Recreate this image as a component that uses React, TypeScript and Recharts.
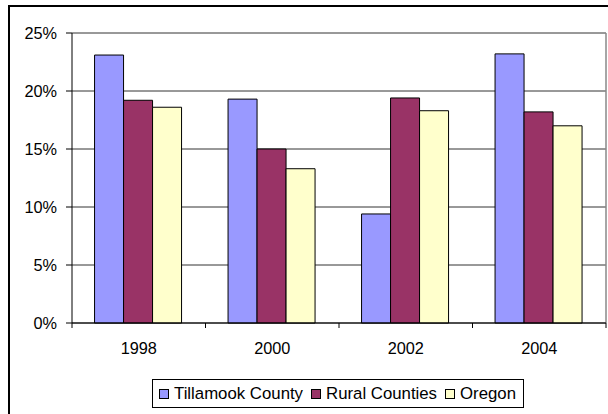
import { BarChart, Bar, XAxis, YAxis, CartesianGrid } from 'recharts';

const years = ['1998', '2000', '2002', '2004'];
const tillamook = [23.1, 19.3, 9.4, 23.2];
const rural = [19.2, 15.0, 19.4, 18.2];
const oregon = [18.6, 13.3, 18.3, 17.0];
const yTicks = [0, 5, 10, 15, 20, 25];

const series = [
  { key: 'tillamook', name: 'Tillamook County', color: '#9999FF' },
  { key: 'rural', name: 'Rural Counties', color: '#993366' },
  { key: 'oregon', name: 'Oregon', color: '#FFFFCC' },
];

const data = years.map((year, i) => ({
  year,
  tillamook: tillamook[i],
  rural: rural[i],
  oregon: oregon[i],
}));

const FONT = '"Liberation Sans", Arial, sans-serif';
const CHART_W = 600;
const CHART_H = 400;
const MARGIN = { top: 26, right: 4, left: 0, bottom: 44 };
const Y_WIDTH = 62;
const band = (CHART_W - MARGIN.left - MARGIN.right - Y_WIDTH) / years.length;

// category labels plus Excel-style tick marks on the category boundaries
const YearTick = (props: any) => {
  const { x, y, payload, index } = props;
  const axisY = y - 19;
  return (
    <g>
      <line x1={x - band / 2} x2={x - band / 2} y1={axisY} y2={axisY + 5} stroke="#000" />
      {index === years.length - 1 && (
        <line x1={x + band / 2} x2={x + band / 2} y1={axisY} y2={axisY + 5} stroke="#000" />
      )}
      <text x={x} y={y} dy="0.71em" textAnchor="middle" fontSize={16.3} fontFamily={FONT} fill="#000">
        {payload.value}
      </text>
    </g>
  );
};

export default function App() {
  return (
    <div
      style={{
        position: 'absolute',
        left: 8,
        top: 5,
        width: CHART_W,
        height: 410,
        border: '2px solid #000',
        background: '#fff',
      }}
    >
      <BarChart
        width={CHART_W}
        height={CHART_H}
        data={data}
        margin={MARGIN}
        barCategoryGap="16.9%"
        barGap={0}
      >
        <CartesianGrid vertical={false} stroke="#333" strokeWidth={1} />
        <CartesianGrid
          horizontal={false}
          stroke="#888"
          strokeWidth={1.5}
          verticalCoordinatesGenerator={({ offset }: any) => [offset.left + offset.width]}
        />
        <XAxis
          dataKey="year"
          height={40}
          axisLine={{ stroke: '#000' }}
          tickLine={false}
          tickMargin={14}
          tickSize={5}
          tick={<YearTick />}
        />
        <YAxis
          width={Y_WIDTH}
          domain={[0, 25]}
          ticks={yTicks}
          tickFormatter={(v) => `${v}%`}
          axisLine={{ stroke: '#000' }}
          tickLine={{ stroke: '#000' }}
          tickSize={6}
          tickMargin={9}
          tick={{ fontSize: 16.3, fontFamily: FONT, fill: '#000' }}
          interval={0}
        />
        {series.map((s) => (
          <Bar
            key={s.key}
            dataKey={s.key}
            name={s.name}
            fill={s.color}
            stroke="#000"
            strokeWidth={1}
            isAnimationActive={false}
          />
        ))}
      </BarChart>
      <div
        style={{
          position: 'absolute',
          left: 142,
          top: 372,
          height: 27,
          border: '1px solid #000',
          display: 'flex',
          alignItems: 'center',
          paddingLeft: 6,
          paddingRight: 7,
          fontFamily: FONT,
          fontSize: 16.8,
          color: '#000',
          whiteSpace: 'nowrap',
        }}
      >
        {series.map((s, i) => (
          <div key={s.key} style={{ display: 'flex', alignItems: 'center', marginLeft: i === 0 ? 0 : 8 }}>
            <span
              style={{
                display: 'inline-block',
                width: 8,
                height: 8,
                background: s.color,
                border: '1px solid #000',
                marginRight: 5,
              }}
            />
            <span>{s.name}</span>
          </div>
        ))}
      </div>
    </div>
  );
}
